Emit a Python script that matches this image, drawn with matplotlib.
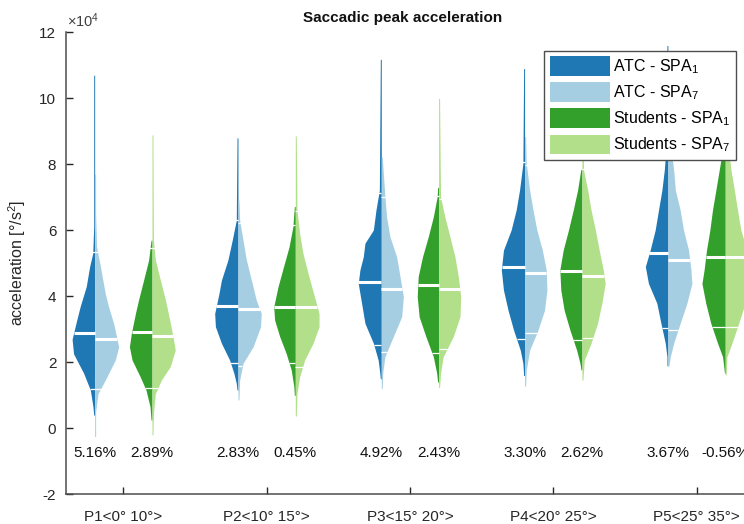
import matplotlib
matplotlib.use("Agg")
import matplotlib.pyplot as plt
import numpy as np
from matplotlib.patches import Patch

plt.rcParams['font.family'] = ['Liberation Sans', 'DejaVu Sans']
plt.rcParams['mathtext.default'] = 'regular'
plt.rcParams['axes.unicode_minus'] = False

# ---- data (acceleration in 1e4 deg/s^2) ----
groups = ["P1<0° 10°>", "P2<10° 15°>", "P3<15° 20°>", "P4<20° 25°>", "P5<25° 35°>"]
series_names = ["ATC - SPA$_1$", "ATC - SPA$_7$", "Students - SPA$_1$", "Students - SPA$_7$"]

# violin outlines: y levels and relative density (one list per group)
atc1_y = [[0.4, 0.65, 1.16, 1.67, 2.26, 2.7, 3.3, 3.7, 4.3, 4.9, 5.3, 6.1, 10.7],
          [1.16, 1.36, 1.67, 2.07, 2.58, 3.08, 3.48, 4.09, 4.49, 5.1, 5.7, 6.31, 8.8],
          [1.5, 1.67, 2.07, 2.58, 3.18, 3.79, 4.39, 4.8, 5.2, 5.61, 6.01, 6.62, 7.22, 11.18],
          [1.6, 1.97, 2.37, 2.98, 3.58, 4.19, 4.8, 5.4, 6.01, 6.62, 7.22, 8.03, 10.9],
          [1.9, 2.17, 2.58, 3.18, 3.79, 4.39, 4.9, 5.4, 6.01, 6.62, 7.22, 7.83, 8.6, 11.6]]
atc1_d = [[0.04, 0.07, 0.18, 0.46, 0.88, 0.94, 0.74, 0.6, 0.35, 0.21, 0.08, 0.04, 0.04],
          [0.04, 0.07, 0.17, 0.35, 0.69, 0.94, 0.97, 0.79, 0.69, 0.42, 0.24, 0.07, 0.04],
          [0.04, 0.06, 0.13, 0.33, 0.68, 0.82, 0.96, 0.89, 0.75, 0.68, 0.33, 0.22, 0.08, 0.04],
          [0.04, 0.07, 0.18, 0.46, 0.69, 0.88, 0.97, 0.88, 0.56, 0.35, 0.21, 0.07, 0.04],
          [0.04, 0.04, 0.11, 0.29, 0.46, 0.81, 0.94, 0.74, 0.53, 0.39, 0.25, 0.15, 0.07, 0.04]]

atc7_y = [[-0.25, 0.5, 1.05, 1.46, 2.07, 2.47, 3.18, 3.68, 4.09, 4.9, 5.5, 6.5, 7.7],
          [0.86, 1.46, 1.97, 2.47, 3.08, 3.48, 3.89, 4.49, 5.1, 5.7, 6.31, 6.92],
          [1.21, 1.67, 2.17, 2.78, 3.38, 3.99, 4.6, 5.2, 5.81, 6.41, 7.02, 8.23],
          [1.28, 1.77, 2.37, 2.98, 3.58, 4.19, 4.8, 5.4, 6.01, 6.62, 7.22, 8.03, 8.84],
          [1.87, 2.17, 2.58, 3.18, 3.79, 4.39, 4.8, 5.4, 6.01, 6.62, 7.22, 7.83, 8.6, 9.5]]
atc7_d = [[0.04, 0.04, 0.14, 0.44, 0.86, 1.0, 0.79, 0.58, 0.44, 0.24, 0.08, 0.04, 0.04],
          [0.04, 0.07, 0.21, 0.63, 0.94, 0.97, 0.76, 0.56, 0.35, 0.21, 0.07, 0.04],
          [0.04, 0.06, 0.15, 0.5, 0.85, 0.92, 0.78, 0.64, 0.36, 0.22, 0.15, 0.04],
          [0.04, 0.07, 0.21, 0.56, 0.83, 0.93, 0.9, 0.74, 0.51, 0.35, 0.21, 0.07, 0.04],
          [0.04, 0.1, 0.24, 0.51, 0.79, 1.0, 0.96, 0.86, 0.65, 0.51, 0.31, 0.24, 0.11, 0.04]]

stu1_y = [[0.25, 0.65, 1.16, 1.56, 2.07, 2.47, 2.88, 3.48, 3.89, 4.49, 5.1, 5.7],
          [1.0, 1.26, 1.77, 2.27, 2.78, 3.28, 3.68, 4.29, 4.9, 5.5, 6.11, 6.72],
          [1.4, 1.67, 2.17, 2.78, 3.38, 3.99, 4.6, 5.2, 5.81, 6.41, 7.02, 7.3],
          [1.77, 1.97, 2.37, 2.98, 3.58, 4.19, 4.8, 5.4, 6.01, 6.62, 7.22, 7.87],
          [1.67, 2.17, 2.58, 3.18, 3.79, 4.39, 4.8, 5.4, 6.01, 6.62, 7.22, 7.83, 8.6]]
stu1_d = [[0.04, 0.08, 0.25, 0.49, 0.83, 0.94, 0.86, 0.69, 0.56, 0.35, 0.14, 0.04],
          [0.04, 0.06, 0.17, 0.38, 0.65, 0.86, 0.9, 0.72, 0.49, 0.26, 0.1, 0.04],
          [0.04, 0.08, 0.22, 0.53, 0.81, 0.89, 0.85, 0.67, 0.43, 0.22, 0.06, 0.04],
          [0.04, 0.08, 0.22, 0.5, 0.74, 0.88, 0.92, 0.78, 0.56, 0.36, 0.18, 0.04],
          [0.03, 0.11, 0.32, 0.6, 0.81, 0.97, 0.88, 0.78, 0.64, 0.53, 0.39, 0.25, 0.07]]

stu7_y = [[-0.2, 0.45, 1.05, 1.46, 1.87, 2.37, 2.68, 3.28, 3.89, 4.49, 5.1, 5.7, 8.89],
          [0.37, 1.05, 1.56, 2.07, 2.58, 3.08, 3.48, 4.09, 4.7, 5.3, 5.91, 6.62, 8.86],
          [1.24, 1.67, 2.17, 2.78, 3.38, 3.99, 4.6, 5.2, 5.81, 6.41, 7.02, 10.0],
          [1.46, 2.07, 2.58, 3.18, 3.79, 4.39, 4.8, 5.4, 6.01, 6.62, 7.22, 7.82, 8.6],
          [1.62, 2.17, 2.58, 3.18, 3.79, 4.39, 4.8, 5.4, 6.01, 6.62, 7.22, 7.83, 8.6, 10.5]]
stu7_d = [[0.04, 0.06, 0.14, 0.39, 0.76, 0.97, 0.9, 0.74, 0.56, 0.35, 0.14, 0.06, 0.04],
          [0.04, 0.07, 0.18, 0.39, 0.74, 0.99, 0.99, 0.76, 0.53, 0.32, 0.18, 0.07, 0.04],
          [0.04, 0.08, 0.19, 0.61, 0.89, 0.92, 0.82, 0.68, 0.47, 0.26, 0.08, 0.04],
          [0.04, 0.1, 0.38, 0.65, 0.83, 0.97, 0.89, 0.72, 0.56, 0.38, 0.24, 0.07, 0.04],
          [0.04, 0.07, 0.28, 0.56, 0.83, 1.0, 1.0, 0.9, 0.65, 0.51, 0.38, 0.24, 0.11, 0.04]]

# medians and lower / upper marks
atc1_med = [2.88, 3.71, 4.44, 4.88, 5.32]
atc7_med = [2.70, 3.62, 4.21, 4.72, 5.10]
stu1_med = [2.91, 3.69, 4.34, 4.78, 5.18]
stu7_med = [2.80, 3.68, 4.23, 4.62, 5.18]

atc1_lo = [1.20, 1.99, 2.52, 2.70, 3.05]
atc7_lo = [1.20, 1.89, 2.32, 2.90, 2.98]
stu1_lo = [1.21, 1.99, 2.29, 2.68, 3.08]
stu7_lo = [1.21, 1.87, 2.39, 2.73, 3.08]

atc1_hi = [5.35, 6.31, 7.14, 8.08, 8.6]
atc7_hi = [5.35, 6.23, 7.02, 7.99, 8.5]
stu1_hi = [5.45, 6.16, 7.05, 7.87, 8.6]
stu7_hi = [5.45, 6.58, 6.95, 7.87, 8.6]

atc_pct = ["5.16%", "2.83%", "4.92%", "3.30%", "3.67%"]
stu_pct = ["2.89%", "0.45%", "2.43%", "2.62%", "-0.56%"]

colors = ["#1f78b4", "#a6cee3", "#33a02c", "#b2df8a"]
half_w = 0.1675
offset = 0.2


def half_violin(ax, x0, ys, ds, side, color, med, lo, hi):
    ys = np.asarray(ys, dtype=float)
    w = np.asarray(ds, dtype=float) * half_w
    if side < 0:
        ax.fill_betweenx(ys, x0 - w, x0, color=color, lw=0, zorder=2)
    else:
        ax.fill_betweenx(ys, x0, x0 + w, color=color, lw=0, zorder=2)
    wm = np.interp(med, ys, w)
    ax.plot([x0, x0 + side * wm], [med, med], color="white", lw=2.2,
            solid_capstyle="butt", zorder=3)
    for q in (lo, hi):
        wq = max(np.interp(q, ys, w), 0.022)
        ax.plot([x0, x0 + side * wq], [q, q], color="white", lw=0.9,
                solid_capstyle="butt", zorder=3)


fig = plt.figure(figsize=(7.44, 5.24), dpi=100)
ax = fig.add_axes([66 / 744, 29.7 / 524, 678 / 744, 462 / 524])

for i in range(len(groups)):
    xa = i + 1 - offset
    xs = i + 1 + offset
    half_violin(ax, xa, atc1_y[i], atc1_d[i], -1, colors[0], atc1_med[i], atc1_lo[i], atc1_hi[i])
    half_violin(ax, xa, atc7_y[i], atc7_d[i], 1, colors[1], atc7_med[i], atc7_lo[i], atc7_hi[i])
    half_violin(ax, xs, stu1_y[i], stu1_d[i], -1, colors[2], stu1_med[i], stu1_lo[i], stu1_hi[i])
    half_violin(ax, xs, stu7_y[i], stu7_d[i], 1, colors[3], stu7_med[i], stu7_lo[i], stu7_hi[i])
    ax.text(xa, -0.75, atc_pct[i], ha="center", va="center", fontsize=11, color="#111111")
    ax.text(xs, -0.75, stu_pct[i], ha="center", va="center", fontsize=11, color="#111111")

ax.set_xlim(0.6, 5.331)
ax.set_ylim(-2, 12)
ax.set_xticks(range(1, len(groups) + 1))
ax.set_xticklabels(groups)
ax.set_yticks(range(-2, 13, 2))
ax.tick_params(direction="in", length=5, width=1, colors="#262626", labelsize=11)
ax.tick_params(axis="x", pad=11)
ax.tick_params(axis="y", pad=7)
for s in ["top", "right"]:
    ax.spines[s].set_visible(False)
for s in ["left", "bottom"]:
    ax.spines[s].set_color("#4d4d4d")
    ax.spines[s].set_linewidth(1.1)

ax.set_ylabel("acceleration [°/s$^2$]", fontsize=11.5, color="#262626", labelpad=8)
fig.text(403 / 744, 1 - 18 / 524, "Saccadic peak acceleration", ha="center", va="center",
         fontsize=11, fontweight="bold", color="#111111")
ax.annotate("×10$^4$", xy=(0, 1), xycoords="axes fraction", xytext=(1, 2),
            textcoords="offset points", ha="left", va="bottom", fontsize=10.5, color="#404040")

handles = [Patch(facecolor=c, edgecolor="none") for c in colors]
ax.legend(handles, series_names, loc="upper right", bbox_to_anchor=(736 / 744, 1 - 50.7 / 524),
          bbox_transform=fig.transFigure, fontsize=11.5, handlelength=3.75, handleheight=1.5,
          labelspacing=0.4, handletextpad=0.2, borderpad=0.35, borderaxespad=0,
          fancybox=False, framealpha=1, edgecolor="#4d4d4d")

fig.savefig("out.png", dpi=100)
